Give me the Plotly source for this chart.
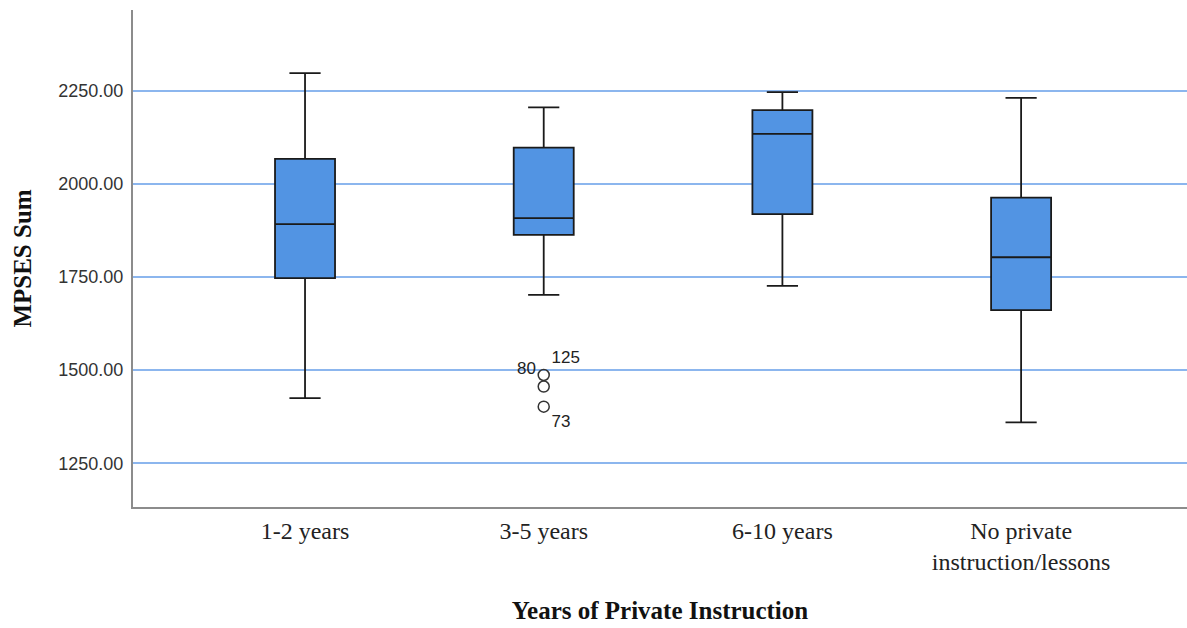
import plotly.graph_objects as go

# Box plot summary of MPSES Sum by years of private instruction
categories = ["1-2 years", "3-5 years", "6-10 years", "No private<br>instruction/lessons"]
lower_whisker = [1425, 1702, 1726, 1360]
q1 = [1747, 1863, 1919, 1661]
median = [1892, 1908, 2134, 1803]
q3 = [2067, 2097, 2198, 1963]
upper_whisker = [2297, 2205, 2246, 2231]

# Outlying cases (case numbers shown beside the points)
outlier_category = ["3-5 years", "3-5 years", "3-5 years"]
outlier_value = [1487, 1456, 1402]
outlier_case = ["125", "80", "73"]
outlier_label_pos = ["top right", "top left", "bottom right"]

y_ticks = [1250, 1500, 1750, 2000, 2250]

fig = go.Figure()

fig.add_trace(go.Box(
    x=categories,
    q1=q1,
    median=median,
    q3=q3,
    lowerfence=lower_whisker,
    upperfence=upper_whisker,
    fillcolor="#5294E3",
    line=dict(color="#1a1a1a", width=1.8),
    width=0.2514,
    whiskerwidth=0.52,
    boxpoints=False,
    showlegend=False,
    hoverinfo="skip",
))

fig.add_trace(go.Scatter(
    x=outlier_category,
    y=outlier_value,
    mode="markers+text",
    text=outlier_case,
    textposition=outlier_label_pos,
    textfont=dict(family="Liberation Sans", size=17, color="#222222"),
    marker=dict(symbol="circle-open", size=11, color="#333333", line=dict(width=1.5)),
    showlegend=False,
    hoverinfo="skip",
))

fig.update_layout(
    width=1187,
    height=628,
    margin=dict(l=133, r=0, t=10, b=121),
    paper_bgcolor="white",
    plot_bgcolor="white",
    showlegend=False,
)

fig.update_xaxes(
    type="category",
    categoryorder="array",
    categoryarray=categories,
    range=[-0.7207, 3.695],
    automargin=False,
    showline=True,
    linecolor="#8c8c8c",
    linewidth=2,
    showgrid=False,
    zeroline=False,
    ticks="",
    ticklabelstandoff=1,
    tickfont=dict(family="Liberation Serif", size=24, color="#222222"),
    title=dict(
        text="<b>Years of Private Instruction</b>",
        font=dict(family="Liberation Serif", size=25, color="#111111"),
        standoff=27,
    ),
)

fig.update_yaxes(
    range=[1132.7, 2466.6],
    tickvals=y_ticks,
    tickformat=".2f",
    automargin=False,
    showline=True,
    linecolor="#8c8c8c",
    linewidth=2,
    showgrid=True,
    gridcolor="#8CB6EE",
    gridwidth=2,
    zeroline=False,
    ticks="",
    ticklabelstandoff=4,
    tickfont=dict(family="Liberation Sans", size=18, color="#333333"),
    title=dict(
        text="<b>MPSES Sum</b>",
        font=dict(family="Liberation Serif", size=25, color="#111111"),
        standoff=20,
    ),
)

fig.write_html("out.html")
